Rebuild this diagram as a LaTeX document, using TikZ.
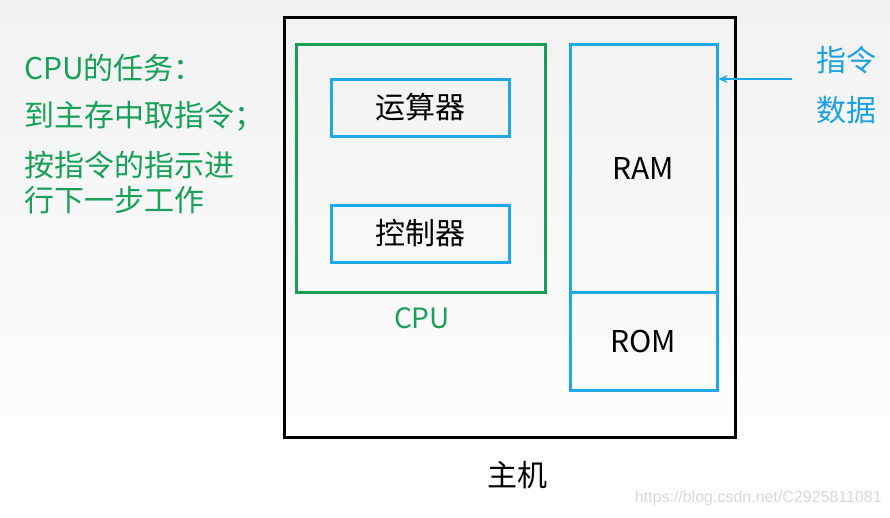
\documentclass[tikz,border=0pt]{standalone}
\usepackage{fontspec}
\newfontfamily\cjk{Noto Sans CJK SC}
\newfontfamily\wmfont{Liberation Sans}
\usetikzlibrary{arrows.meta}
\definecolor{tgreen}{RGB}{22,160,88}
\definecolor{bgreen}{RGB}{26,158,85}
\definecolor{tblue}{RGB}{27,161,226}
\definecolor{bblue}{RGB}{30,168,236}
\definecolor{bgtop}{RGB}{242,242,242}
\tikzset{
  unitbox/.style={draw=bblue, line width=3pt, minimum width=178pt, minimum height=57pt, inner sep=0pt, font=\cjk\fontsize{30}{34}\selectfont, text=black},
  memtext/.style={font=\cjk\fontsize{30}{34}\selectfont, text=black},
  greentext/.style={font=\cjk\fontsize{30}{34}\selectfont, text=tgreen, anchor=west, inner sep=0pt},
  bluetext/.style={font=\cjk\fontsize{30}{34}\selectfont, text=tblue, inner sep=0pt},
}
\begin{document}
\begin{tikzpicture}[x=1pt,y=-1pt]
  \useasboundingbox (0,0) rectangle (890,517);
  \shade[top color=bgtop, bottom color=white] (0,0) rectangle (890,517);
  % main box
  \node[draw=black, line width=3pt, minimum width=451pt, minimum height=420pt, inner sep=0pt] (host) at (509.5,227) {};
  % CPU box
  \node[draw=bgreen, line width=3pt, minimum width=249pt, minimum height=248pt, inner sep=0pt] (cpu) at (420.5,168) {};
  \node[unitbox] (alu) at (420,107.5) {运算器};
  \node[unitbox] (ctrl) at (420,233.5) {控制器};
  \node[font=\cjk\fontsize{28}{32}\selectfont, text=tgreen] (cpulabel) at (422,318) {CPU};
  % memory
  \node[draw=bblue, line width=3pt, minimum width=147pt, minimum height=248pt, inner sep=0pt] (ram) at (643.5,168) {};
  \node[draw=bblue, line width=3pt, minimum width=147pt, minimum height=98pt, inner sep=0pt] (rom) at (643.5,341) {};
  \node[memtext] (ramlabel) at (643,168) {RAM};
  \node[memtext] (romlabel) at (643,341) {ROM};
  % arrow and labels
  \node[bluetext] (instr) at (846,60) {指令};
  \node[bluetext] (data) at (846,110) {数据};
  \coordinate (arrstart) at (792,79);
  \draw[draw=bblue, line width=1.5pt, -{Stealth[length=9pt,width=8pt]}] (arrstart) -- (ram.east |- arrstart);
  % left text
  \node[greentext] (t1) at (24,68) {CPU的任务：};
  \node[greentext] (t2) at (24,116) {到主存中取指令；};
  \node[greentext] (t3) at (24,165) {按指令的指示进};
  \node[greentext] (t4) at (24,200) {行下一步工作};
  % host label
  \node[font=\cjk\fontsize{30}{34}\selectfont, text=black] (hostlabel) at (517,475) {主机};
  % watermark
  \node[font=\wmfont\fontsize{16}{19}\selectfont, text=black!15, anchor=east, inner sep=0pt] (wm) at (882,498) {https://blog.csdn.net/C2925811081};
\end{tikzpicture}
\end{document}
